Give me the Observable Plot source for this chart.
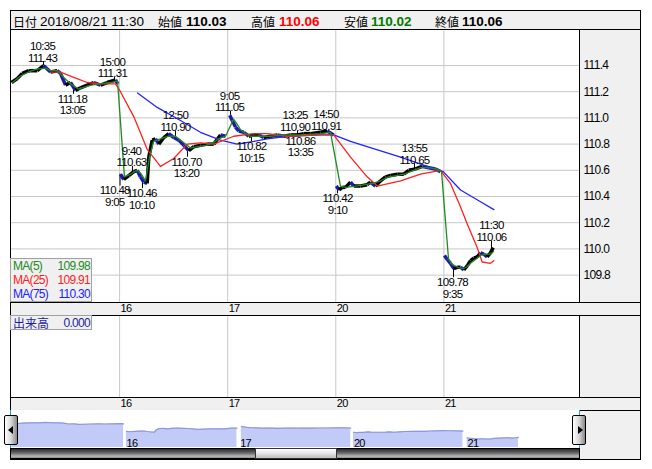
<!DOCTYPE html>
<html><head><meta charset="utf-8">
<script src="https://cdn.jsdelivr.net/npm/d3@7"></script>
<script src="https://cdn.jsdelivr.net/npm/@observablehq/plot@0.6"></script>
<style>
html,body{margin:0;padding:0;background:#fff;}
#wrap{position:relative;width:652px;height:469px;overflow:hidden;font-family:"Liberation Sans",Arial,sans-serif;}
.a{position:absolute;box-sizing:border-box;}
.nar{font-family:"Liberation Sans",Arial,sans-serif;letter-spacing:-0.7px;}
.cjk{font-family:"Noto Sans CJK JP",sans-serif;letter-spacing:0;}
.hd span{position:absolute;top:0;line-height:21px;white-space:nowrap;}
.num{font-family:"Liberation Sans",Arial,sans-serif;font-size:13.5px;}
.kj{font-family:"Noto Sans CJK JP",sans-serif;font-size:12px;}
.row{position:absolute;left:0;width:80px;height:14px;line-height:14px;font-size:12px;}
.row .l{position:absolute;left:2px;}
.row .r{position:absolute;right:1px;}
#main svg text, #vol svg text, #nav svg text{letter-spacing:-0.7px;}
</style>
</head><body>
<div id="wrap">
  <div class="a" style="left:579px;top:29px;width:61px;height:430px;background:#f0f0f0"></div>
  <div class="a" style="left:10px;top:302px;width:631px;height:14px;background:#f0f0f0;border-top:1px solid #000;border-bottom:1px solid #000"></div>
  <div class="a" style="left:10px;top:397px;width:631px;height:14px;background:#f0f0f0;border-top:1px solid #000;border-bottom:1px solid #000"></div>
  <div class="a" style="left:10px;top:410px;width:570px;height:38px;background:#fff"></div>
  <div id="main" class="a" style="left:0;top:30px;width:652px;height:285px"></div>
  <div id="vol" class="a" style="left:0;top:315px;width:652px;height:95px"></div>
  <div id="nav" class="a" style="left:0;top:410px;width:652px;height:38px;overflow:hidden"></div>

  <div class="a" style="left:10px;top:10px;width:631px;height:450px;border:1px solid #000"></div>
  <div class="a" style="left:579px;top:30px;width:1px;height:272px;background:#000"></div>
  <div class="a" style="left:579px;top:315px;width:1px;height:82px;background:#000"></div>
  <div class="a" style="left:10px;top:410px;width:1px;height:38px;background:#1aa6d8"></div>
  <div class="a" style="left:579px;top:410px;width:1px;height:38px;background:#1aa6d8"></div>

  <div class="a hd" style="left:10px;top:10px;width:631px;height:20px;background:#f0f0f0;border:1px solid #000">
    <span class="kj" style="left:2px">日付</span>
    <span class="num" style="left:29px">2018/08/21 11:30</span>
    <span class="kj" style="left:147px">始値</span>
    <span class="num" style="left:175px;font-weight:bold">110.03</span>
    <span class="kj" style="left:240px">高値</span>
    <span class="num" style="left:268px;font-weight:bold;color:#ff0000">110.06</span>
    <span class="kj" style="left:333px">安値</span>
    <span class="num" style="left:360px;font-weight:bold;color:#007a00">110.02</span>
    <span class="kj" style="left:424px">終値</span>
    <span class="num" style="left:451px;font-weight:bold">110.06</span>
  </div>

  <div class="a nar" style="left:10px;top:258px;width:82px;height:44px;background:#f0f0f0;border:1px solid #a0a0a0">
    <div class="row" style="top:0;color:#1f8a1f"><span class="l">MA(5)</span><span class="r" id="l5"></span></div>
    <div class="row" style="top:14px;color:#ff2222"><span class="l">MA(25)</span><span class="r" id="l25"></span></div>
    <div class="row" style="top:28px;color:#2222ff"><span class="l">MA(75)</span><span class="r" id="l75"></span></div>
  </div>
  <div class="a nar" style="left:10px;top:315px;width:82px;height:15px;background:#f0f0f0;border:1px solid #a0a0a0">
    <div class="row" style="top:0;color:#1c1ca0"><span class="l cjk" style="font-size:12px">出来高</span><span class="r">0.000</span></div>
  </div>

  <div class="a" style="left:10px;top:448px;width:570px;height:11px;border:1px solid #000;background:linear-gradient(to bottom,#2a2a2a 0%,#6a6a6a 45%,#b8b8b8 80%,#8a8a8a 100%)"></div>
  <div class="a" style="left:255px;top:448px;width:82px;height:11px;border:1px solid #333;background:linear-gradient(to bottom,#ffffff 0%,#e4e4e4 50%,#bdbdbd 100%)"></div>
  <div class="a" style="left:4px;top:415px;width:14px;height:30px;border:1px solid #000;border-radius:2px;background:linear-gradient(to right,#ffffff 0%,#d8d8d8 50%,#8a8a8a 100%)">
    <div class="a" style="left:3px;top:10px;width:0;height:0;border-top:4px solid transparent;border-bottom:4px solid transparent;border-right:5px solid #000"></div>
  </div>
  <div class="a" style="left:572px;top:415px;width:14px;height:30px;border:1px solid #000;border-radius:2px;background:linear-gradient(to right,#ffffff 0%,#d8d8d8 50%,#8a8a8a 100%)">
    <div class="a" style="left:5px;top:10px;width:0;height:0;border-top:4px solid transparent;border-bottom:4px solid transparent;border-left:5px solid #000"></div>
  </div>
</div>
<script>
// ---- data (position t = trading-day index + fraction of the session) ----
const dayLabels = ["16", "17", "20", "21"];
const dayStarts = [1, 2, 3, 4];
const yTicks = [109.8, 110.0, 110.2, 110.4, 110.6, 110.8, 111.0, 111.2, 111.4];

const closes = [
  [0.000,111.27],[0.053,111.30],[0.099,111.34],[0.160,111.36],[0.238,111.36],[0.296,111.40],[0.361,111.35],[0.423,111.36],[0.453,111.34],[0.500,111.25],[0.546,111.27],[0.592,111.21],[0.638,111.23],[0.700,111.25],[0.761,111.27],[0.823,111.25],[0.885,111.27],[0.962,111.29],[0.983,111.26],
  [1.008,110.57],[1.039,110.53],[1.085,110.56],[1.131,110.59],[1.163,110.60],[1.193,110.55],[1.224,110.51],[1.255,110.50],[1.270,110.70],[1.302,110.83],[1.332,110.84],[1.363,110.80],[1.409,110.85],[1.455,110.88],[1.501,110.85],[1.548,110.83],[1.594,110.79],[1.640,110.75],[1.686,110.78],[1.748,110.79],[1.810,110.80],[1.871,110.80],[1.933,110.87],[1.980,110.86],
  [2.019,111.02],[2.042,110.98],[2.072,110.93],[2.103,110.90],[2.149,110.89],[2.195,110.86],[2.241,110.87],[2.288,110.87],[2.334,110.85],[2.396,110.86],[2.458,110.87],[2.519,110.86],[2.581,110.87],[2.643,110.87],[2.704,110.88],[2.766,110.88],[2.858,110.89],[2.920,110.90],[2.981,110.87],
  [3.005,110.48],[3.030,110.45],[3.060,110.47],[3.090,110.47],[3.136,110.51],[3.167,110.48],[3.229,110.48],[3.290,110.49],[3.321,110.51],[3.367,110.48],[3.414,110.52],[3.460,110.55],[3.506,110.56],[3.568,110.57],[3.629,110.57],[3.675,110.60],[3.737,110.61],[3.799,110.63],[3.860,110.62],[3.922,110.61],[3.968,110.59],
  [4.005,109.95],[4.031,109.92],[4.061,109.89],[4.092,109.85],[4.123,109.86],[4.154,109.86],[4.184,109.84],[4.216,109.87],[4.246,109.91],[4.277,109.93],[4.308,109.94],[4.339,109.97],[4.369,109.96],[4.400,109.94],[4.431,109.97],[4.456,110.01]
];

const ma5 = [
  [0.009,111.27],[0.083,111.32],[0.157,111.35],[0.222,111.37],[0.315,111.38],[0.361,111.36],[0.426,111.36],[0.481,111.31],[0.546,111.26],[0.620,111.22],[0.731,111.25],[0.823,111.26],[0.916,111.27],[0.981,111.28],
  [1.045,110.55],[1.101,110.57],[1.156,110.60],[1.193,110.58],[1.240,110.52],[1.277,110.70],[1.314,110.82],[1.378,110.84],[1.452,110.86],[1.517,110.86],[1.563,110.83],[1.610,110.80],[1.656,110.77],[1.721,110.78],[1.795,110.79],[1.869,110.81],[1.915,110.84],[1.980,110.86],
  [2.054,110.99],[2.081,110.96],[2.118,110.91],[2.165,110.88],[2.211,110.86],[2.303,110.86],[2.396,110.86],[2.535,110.87],[2.673,110.87],[2.858,110.88],[2.951,110.89],
  [3.043,110.48],[3.090,110.47],[3.182,110.48],[3.275,110.49],[3.339,110.50],[3.414,110.52],[3.487,110.55],[3.561,110.56],[3.635,110.57],[3.691,110.59],[3.784,110.62],[3.858,110.62],[3.932,110.61],[3.978,110.59],
  [4.043,109.92],[4.080,109.88],[4.126,109.86],[4.172,109.85],[4.209,109.86],[4.246,109.89],[4.292,109.92],[4.339,109.95],[4.385,109.96],[4.431,109.96],[4.459,109.98]
];

const ma25 = [
  [0.361,111.35],[0.453,111.35],[0.576,111.31],[0.700,111.27],[0.823,111.26],[0.962,111.26],[1.008,111.20],[1.131,111.01],[1.255,110.76],[1.378,110.63],[1.501,110.69],[1.625,110.80],[1.748,110.81],[1.871,110.80],[2.056,110.86],[2.241,110.88],[2.365,110.88],[2.550,110.86],[2.858,110.87],[2.981,110.87],
  [3.136,110.70],[3.290,110.55],[3.383,110.48],[3.599,110.52],[3.784,110.57],[3.968,110.60],[4.061,110.50],[4.154,110.32],[4.216,110.19],[4.308,110.01],[4.354,109.90],[4.431,109.89],[4.462,109.91]
];

const ma75 = [
  [1.166,111.19],[1.348,111.08],[1.563,110.98],[1.748,110.89],[1.933,110.83],[2.088,110.80],[2.241,110.82],[2.365,110.84],[2.550,110.86],[2.858,110.87],[2.981,110.87],
  [3.136,110.82],[3.290,110.78],[3.599,110.70],[3.846,110.63],[3.994,110.59],[4.154,110.45],[4.339,110.36],[4.462,110.30]
];

// annotated highs / lows: [bar t, value, time, side, label t]
const extremes = [
  [0.296,111.43,"10:35","hi",0.287],[0.574,111.18,"13:05","lo",0.564],[0.953,111.31,"15:00","hi",0.934],
  [1.004,110.48,"9:05","lo",0.955],[1.119,110.63,"9:40","hi",1.110],[1.212,110.46,"10:10","lo",1.205],
  [1.517,110.90,"12:50","hi",1.517],[1.628,110.70,"13:20","lo",1.619],
  [2.026,111.05,"9:05","hi",2.017],[2.220,110.82,"10:15","lo",2.220],[2.646,110.90,"13:25","hi",2.624],[2.673,110.86,"13:35","lo",2.673],[2.895,110.91,"14:50","hi",2.910],
  [3.016,110.42,"9:10","lo",3.016],[3.728,110.65,"13:55","hi",3.728],
  [4.089,109.78,"9:35","lo",4.080],[4.440,110.06,"11:30","hi",4.440]
];
const lastMA = {ma5: 109.98, ma25: 109.91, ma75: 110.30};

// ---- build ----
const F = '"Liberation Sans",Arial,sans-serif';
const pts = closes.map(([t, v]) => ({t, v, day: Math.floor(t)}));
const segs = [];
for (let i = 0; i < pts.length - 1; i++) {
  const a = pts[i], b = pts[i + 1];
  if (a.day === b.day) segs.push({t1: a.t, v1: a.v, t2: b.t, v2: b.v, up: b.v >= a.v});
}
const ext = extremes.map(([t, v, time, side, lt]) => {
  const same = pts.filter(p => p.day === Math.floor(t));
  let near = same[0];
  for (const p of same) if (Math.abs(p.t - t) < Math.abs(near.t - t)) near = p;
  return {t, v, time, side, lt, base: near.v, label: side === "hi" ? `${time}\n${v.toFixed(2)}` : `${v.toFixed(2)}\n${time}`};
});
const toObj = arr => arr.map(([t, v]) => ({t, v}));
const dayName = d => dayLabels[dayStarts.indexOf(d)];

const xDom = [-0.00925, 5.2544];
const common = {width: 652, marginLeft: 10, marginRight: 73, x: {domain: xDom}};
const st = {background: "transparent", overflow: "visible", fontFamily: F, fontSize: "11.5px", color: "#000", letterSpacing: "-0.7px"};

const main = Plot.plot({
  ...common, height: 285, marginTop: 0, marginBottom: 13,
  y: {domain: [109.591, 111.667]},
  style: st,
  marks: [
    Plot.ruleY(yTicks, {stroke: "#c8c8c8", strokeWidth: 1}),
    Plot.ruleX(dayStarts, {stroke: "#c8c8c8", strokeWidth: 1}),
    Plot.axisY(yTicks, {anchor: "right", tickSize: 0, tickPadding: 4, tickFormat: d => d.toFixed(1), label: null, fontSize: 12}),
    Plot.axisX(dayStarts, {anchor: "bottom", tickSize: 0, tickPadding: 2, tickFormat: dayName, textAnchor: "start", dx: 1, label: null, fontSize: 11}),
    Plot.ruleX(ext, {x: "t", y1: "v", y2: "base", stroke: "#000", strokeWidth: 1}),
    Plot.link(segs, {x1: "t1", y1: "v1", x2: "t2", y2: "v2", stroke: d => d.up ? "#000000" : "#1b1ba8", strokeWidth: 3.5}),
    Plot.line(toObj(ma75), {x: "t", y: "v", stroke: "#2222ff", strokeWidth: 1.3}),
    Plot.line(toObj(ma25), {x: "t", y: "v", stroke: "#ff2020", strokeWidth: 1.3}),
    Plot.line(toObj(ma5), {x: "t", y: "v", stroke: "#1f8a1f", strokeWidth: 1.3}),
    Plot.text(ext.filter(d => d.side === "hi"), {x: "lt", y: "v", text: "label", lineAnchor: "bottom", lineHeight: 1.02, fontSize: 11.5, fill: "#000"}),
    Plot.text(ext.filter(d => d.side === "lo"), {x: "lt", y: "v", text: "label", lineAnchor: "top", lineHeight: 1.02, fontSize: 11.5, fill: "#000"})
  ]
});
document.getElementById("main").appendChild(main);

const vol = Plot.plot({
  ...common, height: 95, marginTop: 1, marginBottom: 13,
  style: st,
  marks: [
    Plot.ruleX(dayStarts, {stroke: "#c8c8c8", strokeWidth: 1}),
    Plot.axisX(dayStarts, {anchor: "bottom", tickSize: 0, tickPadding: 2, tickFormat: dayName, textAnchor: "start", dx: 1, label: null, fontSize: 11})
  ]
});
document.getElementById("vol").appendChild(vol);

const NAV_MIN = 109.06;
const nav = Plot.plot({
  width: 652, height: 38, marginLeft: 0, marginRight: 0, marginTop: 0, marginBottom: 1,
  x: {domain: [-11.3 / 113.7, (652 - 11.3) / 113.7], axis: null},
  y: {domain: [NAV_MIN, 112.51], axis: null},
  style: st,
  marks: [
    Plot.area(pts, {x1: "t", y1: () => NAV_MIN, y2: "v", z: "day", fill: "#c2cbf7"}),
    Plot.line(pts, {x: "t", y: "v", z: "day", stroke: "#8f97d8", strokeWidth: 1.2}),
    Plot.text(dayStarts, {x: d => d, frameAnchor: "bottom", text: dayName, textAnchor: "start", lineAnchor: "bottom", dx: 1, dy: -1, fontSize: 11, fill: "#000"})
  ]
});
document.getElementById("nav").appendChild(nav);

document.getElementById("l5").textContent = lastMA.ma5.toFixed(2);
document.getElementById("l25").textContent = lastMA.ma25.toFixed(2);
document.getElementById("l75").textContent = lastMA.ma75.toFixed(2);
</script>
</body></html>
